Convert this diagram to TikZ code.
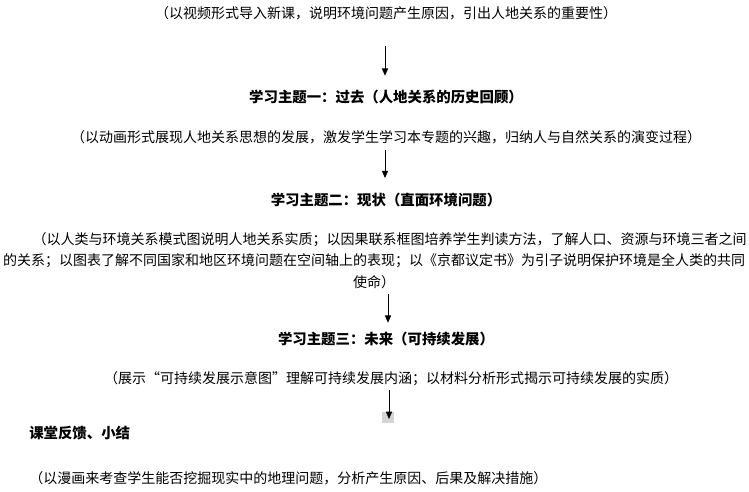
\documentclass[tikz,border=0pt]{standalone}
\usepackage{fontspec}
\setmainfont{Noto Sans CJK SC}
\usetikzlibrary{arrows.meta}
\begin{document}
\begin{tikzpicture}[x=0.75pt,y=-0.75pt,
  txt/.style={inner sep=0pt,font=\fontsize{10.5pt}{12pt}\selectfont},
  ttl/.style={inner sep=0pt,font=\fontsize{10.8pt}{12pt}\selectfont\bfseries},
  arr/.style={line width=0.75pt,-{Triangle[length=5.5pt,width=4.6pt]}}]
\useasboundingbox[fill=white] (0,0) rectangle (749,492);
% texts
\node[txt] (l1) at (386,13) {（以视频形式导入新课，说明环境问题产生原因，引出人地关系的重要性）};
\node[ttl] (t1) at (386,97) {学习主题一：过去（人地关系的历史回顾）};
\node[txt] (l2) at (386,137) {（以动画形式展现人地关系思想的发展，激发学生学习本专题的兴趣，归纳人与自然关系的演变过程）};
\node[ttl] (t2) at (386,200) {学习主题二：现状（直面环境问题）};
\node[txt,anchor=east] (p1) at (747,240) {（以人类与环境关系模式图说明人地关系实质；以因果联系框图培养学生判读方法，了解人口、资源与环境三者之间};
\node[txt] (p2) at (374,261) {的关系；以图表了解不同国家和地区环境问题在空间轴上的表现；以《京都议定书》为引子说明保护环境是全人类的共同};
\node[txt] (p3) at (374,282) {使命）};
\node[ttl] (t3) at (386,339) {学习主题三：未来（可持续发展）};
\node[txt] (l3) at (391,379) {（展示“可持续发展示意图”理解可持续发展内涵；以材料分析形式揭示可持续发展的实质）};
\node[ttl,anchor=west] (fb) at (29,433) {课堂反馈、小结};
\node[txt,anchor=west] (l4) at (29,478) {（以漫画来考查学生能否挖掘现实中的地理问题，分析产生原因、后果及解决措施）};
% connectors
\draw[arr,shorten <=19.5pt,shorten >=10.5pt] ([xshift=-0.75pt]l1.south) -- ([xshift=-0.75pt]t1.north);
\draw[arr,shorten <=4.5pt,shorten >=11pt] ([xshift=-0.75pt]l2.south) -- ([xshift=-0.75pt]t2.north);
\coordinate (a3x) at (388,300);
\draw[arr,shorten <=3.75pt,shorten >=6.75pt] (p3.south -| a3x) -- (t3.north -| a3x);
\coordinate (a4end) at (389,419);
\fill[black!17] (382,412) rectangle (394,423);
\draw[arr,shorten <=3pt] (l3.south -| a4end) -- (a4end);
\end{tikzpicture}
\end{document}
